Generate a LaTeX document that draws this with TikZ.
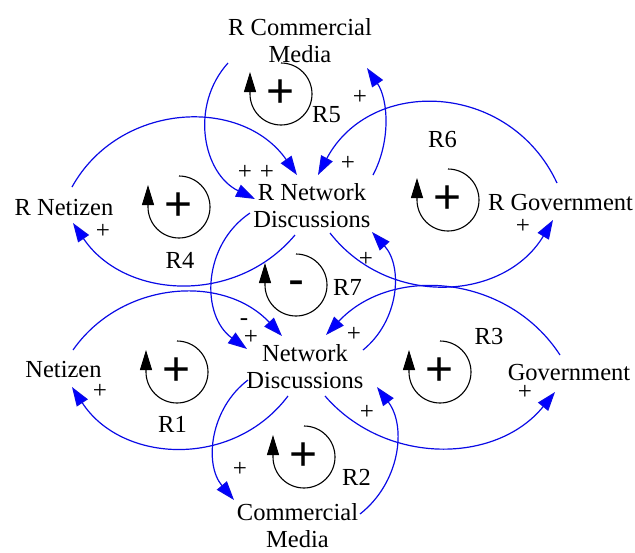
\documentclass[tikz,border=0pt]{standalone}
\usepackage{fontspec}
\setmainfont{Liberation Serif}
\newfontfamily\symfont{Liberation Sans}
\usetikzlibrary{arrows.meta}
\definecolor{linkblue}{RGB}{10,10,230}
\begin{document}
\begin{tikzpicture}[x=1pt,y=1pt,
  var/.style={align=center,inner sep=0pt,font=\fontsize{24.5}{27}\selectfont},
  lbl/.style={inner sep=0pt,font=\fontsize{24.5}{27}\selectfont},
  pol/.style={inner sep=0pt,font=\fontsize{25}{25}\selectfont},
  sgn/.style={inner sep=0pt,font=\symfont\fontsize{48}{48}\selectfont},
  link/.style={draw=linkblue,line width=1.2pt,-{Triangle[length=19pt,width=13pt,fill=blue]}},
  loopar/.style={draw=black,line width=1.1pt,-{Triangle[length=20pt,width=12pt]}}
]
\useasboundingbox (0,0) rectangle (635,-552);

% variables
\node[var] (rcm) at (300,-40.5) {R Commercial\\Media};
\node[var] (rnet) at (64,-207.5) {R Netizen};
\node[var] (rnd) at (312,-205.5) {R Network\\Discussions};
\node[var] (rgov) at (560.5,-202.5) {R Government};
\node[var] (nd) at (305,-366.5) {Network\\Discussions};
\node[var] (net) at (63.5,-369.5) {Netizen};
\node[var] (gov) at (569,-372.5) {Government};
\node[var] (cm) at (297.5,-526) {Commercial\\Media};

% connector ports
\coordinate (rnet-o) at (72,-187);   \coordinate (rnd-i1) at (297,-175);
\coordinate (rcm-o) at (228,-63);    \coordinate (rnd-i2) at (255,-199);
\coordinate (rnd-o1) at (295,-235);  \coordinate (rnet-i) at (73,-223);
\coordinate (rnd-o2) at (373,-175);  \coordinate (rcm-i) at (367,-68);
\coordinate (rgov-o) at (557,-183);  \coordinate (rnd-i3) at (318,-175);
\coordinate (rnd-o3) at (330,-233);  \coordinate (rgov-i) at (553,-220);
\coordinate (rnd-o4) at (250,-213);  \coordinate (nd-i1) at (247,-349);
\coordinate (net-o) at (73,-350);    \coordinate (nd-i2) at (282,-336);
\coordinate (nd-o1) at (288,-396);   \coordinate (net-i) at (72,-387);
\coordinate (gov-o) at (560,-355);   \coordinate (nd-i3) at (326,-335);
\coordinate (nd-o2) at (325,-396);   \coordinate (gov-i) at (555,-392);
\coordinate (nd-o3) at (363,-350);   \coordinate (rnd-i4) at (372,-232);
\coordinate (nd-o4) at (248,-380);   \coordinate (cm-i) at (234,-500);
\coordinate (cm-o) at (360,-514);    \coordinate (nd-i4) at (377,-387);

% links
\draw[link] (rnet-o) to[out=61,in=125,looseness=1.1] (rnd-i1);
\draw[link] (rcm-o) to[out=-132,in=154,looseness=1.07] (rnd-i2);
\draw[link] (rnd-o1) to[out=-130,in=-56,looseness=1.06] (rnet-i);
\draw[link] (rnd-o2) to[out=62,in=-56,looseness=0.91] (rcm-i);
\draw[link] (rgov-o) to[out=115,in=62,looseness=1.2] (rnd-i3);
\draw[link] (rnd-o3) to[out=-52,in=-121,looseness=1.09] (rgov-i);
\draw[link] (rnd-o4) to[out=-146,in=144,looseness=1.08] (nd-i1);
\draw[link] (net-o) to[out=55,in=133,looseness=1.04] (nd-i2);
\draw[link] (nd-o1) to[out=-127,in=-57,looseness=1.08] (net-i);
\draw[link] (gov-o) to[out=123,in=47,looseness=1.05] (nd-i3);
\draw[link] (nd-o2) to[out=-49,in=-129,looseness=1.03] (gov-i);
\draw[link] (nd-o3) to[out=39,in=-48,looseness=1.01] (rnd-i4);
\draw[link] (nd-o4) to[out=-143,in=130,looseness=1.0] (cm-i);
\draw[link] (cm-o) to[out=38,in=-53,looseness=1.0] (nd-i4);

% polarities
\node[pol] (p1) at (245,-172) {+};
\node[pol] (p2) at (267,-172) {+};
\node[pol] (p3) at (103,-231) {+};
\node[pol] (p4) at (360,-97) {+};
\node[pol] (p5) at (348,-163) {+};
\node[pol] (p6) at (523,-226) {+};
\node[pol] (p7) at (244,-322) {-};
\node[pol] (p8) at (251,-337) {+};
\node[pol] (p9) at (366,-259) {+};
\node[pol] (p10) at (354,-334) {+};
\node[pol] (p11) at (100,-391) {+};
\node[pol] (p12) at (525,-392) {+};
\node[pol] (p13) at (240,-469) {+};
\node[pol] (p14) at (367,-412) {+};

% loops
\draw[loopar] (281,-63) arc[start angle=90,end angle=-180,radius=31] -- ++(0,22);
\node[sgn] (s5) at (281,-94) {+};
\node[lbl] (l5) at (326.5,-115) {R5};

\draw[loopar] (179,-176) arc[start angle=90,end angle=-180,radius=31] -- ++(0,22);
\node[sgn] (s4) at (179,-207) {+};
\node[lbl] (l4) at (180,-260.5) {R4};

\draw[loopar] (448,-169) arc[start angle=90,end angle=-180,radius=31] -- ++(0,22);
\node[sgn] (s6) at (448,-200) {+};
\node[lbl] (l6) at (442.5,-139.5) {R6};

\draw[loopar] (296,-254) arc[start angle=90,end angle=-180,radius=31] -- ++(0,22);
\node[sgn] (s7) at (296,-288) {-};
\node[lbl] (l7) at (347.5,-287.5) {R7};

\draw[loopar] (177,-341) arc[start angle=90,end angle=-180,radius=31] -- ++(0,22);
\node[sgn] (s1) at (177,-372) {+};
\node[lbl] (l1) at (172.5,-424.5) {R1};

\draw[loopar] (440,-341) arc[start angle=90,end angle=-180,radius=31] -- ++(0,22);
\node[sgn] (s3) at (440,-372) {+};
\node[lbl] (l3) at (489,-336.5) {R3};

\draw[loopar] (304,-426) arc[start angle=90,end angle=-180,radius=31] -- ++(0,22);
\node[sgn] (s2) at (304,-457) {+};
\node[lbl] (l2) at (356.5,-477.5) {R2};
\end{tikzpicture}
\end{document}
